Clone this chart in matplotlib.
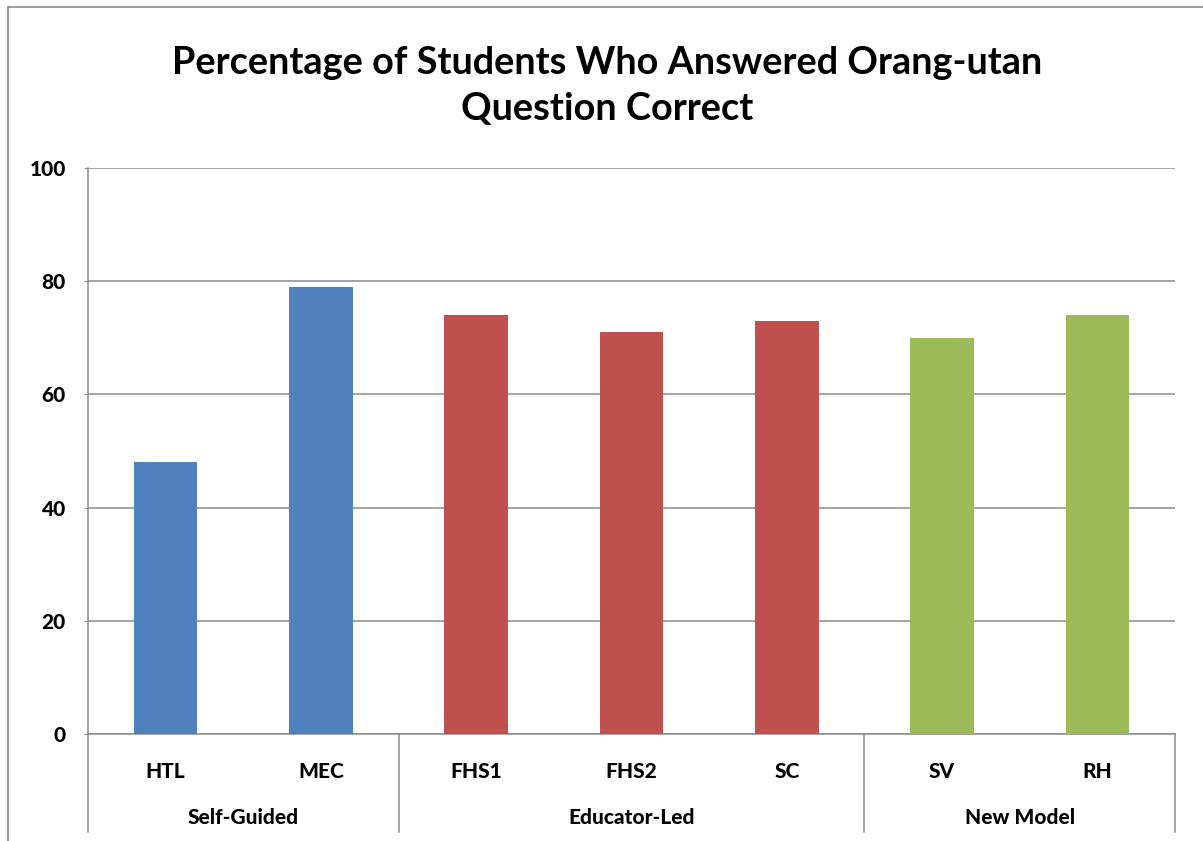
import matplotlib
matplotlib.use("Agg")
import matplotlib.pyplot as plt
import matplotlib.transforms as mtransforms
from matplotlib.lines import Line2D

# Data
sites = ["HTL", "MEC", "FHS1", "FHS2", "SC", "SV", "RH"]
percent_correct = [48, 79, 74, 71, 73, 70, 74]
groups = ["Self-Guided", "Educator-Led", "New Model"]
group_sizes = [2, 3, 2]
group_colors = ["#4F81BD", "#C0504D", "#9BBB59"]
y_ticks = [0, 20, 40, 60, 80, 100]

plt.rcParams["font.family"] = ["Lato", "DejaVu Sans"]
plt.rcParams["font.weight"] = "bold"

W, H = 1203, 841
fig = plt.figure(figsize=(W / 100, H / 100), dpi=100)
fig.patch.set_facecolor("white")

# outer chart border (top and left visible)
fig.add_artist(Line2D([8 / W, 8 / W], [0, 1 - 7 / H], color="#8c8c8c", lw=1.2))
fig.add_artist(Line2D([8 / W, 1], [1 - 7 / H, 1 - 7 / H], color="#8c8c8c", lw=1.2))

left, right, top, bottom = 88 / W, 1175 / W, 1 - 168 / H, 1 - 734 / H
ax = fig.add_axes([left, bottom, right - left, top - bottom])

bar_colors = []
for c, n in zip(group_colors, group_sizes):
    bar_colors += [c] * n

x = list(range(len(sites)))
ax.bar(x, percent_correct, width=0.41, color=bar_colors, zorder=3)

lab_w = 900
lab_fs = 15

ax.set_xlim(-0.5, len(sites) - 0.5)
ax.set_ylim(0, 100)
ax.set_yticks(y_ticks)
ax.set_yticklabels([str(t) for t in y_ticks], fontsize=lab_fs, fontweight=lab_w)
ax.tick_params(axis="y", length=3, color="#8c8c8c", pad=13)
ax.set_xticks([])
ax.grid(axis="y", color="#8c8c8c", lw=1.1, zorder=0)
for s in ["top", "right"]:
    ax.spines[s].set_visible(False)
for s in ["left", "bottom"]:
    ax.spines[s].set_color("#8c8c8c")
    ax.spines[s].set_linewidth(1.1)

# category labels and group labels below the axis
trans = mtransforms.blended_transform_factory(ax.transData, ax.transAxes)
row_h = (832 - 734) / (734 - 168)
for xi, name in zip(x, sites):
    ax.text(xi, -(771 - 734) / (734 - 168), name, transform=trans,
            ha="center", va="center", fontsize=lab_fs, fontweight=lab_w)

start = 0
bounds = [-0.5]
for g, n in zip(groups, group_sizes):
    mid = start + (n - 1) / 2
    ax.text(mid, -(817 - 734) / (734 - 168), g, transform=trans,
            ha="center", va="center", fontsize=lab_fs, fontweight=lab_w)
    start += n
    bounds.append(start - 0.5)

for b in bounds:
    ax.add_line(Line2D([b, b], [0, -row_h], transform=trans, color="#8c8c8c",
                       lw=1.1, clip_on=False))

fig.text(607 / W, 1 - 86 / H,
         "Percentage of Students Who Answered Orang-utan\nQuestion Correct",
         ha="center", va="center", fontsize=27.3, fontweight="bold",
         linespacing=1.45)

fig.savefig("out.png", dpi=100, facecolor="white")
